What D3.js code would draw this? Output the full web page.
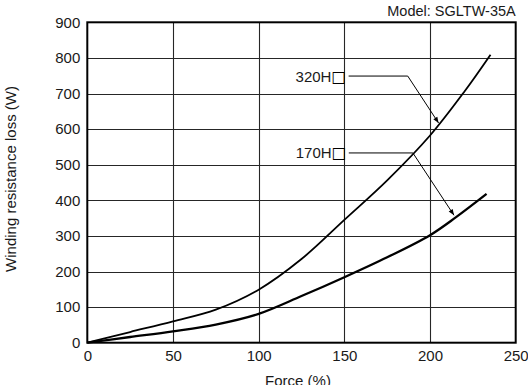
<!DOCTYPE html>
<html>
<head>
<meta charset="utf-8">
<script src="https://cdn.jsdelivr.net/npm/d3@7"></script>
<style>
  html, body { margin: 0; padding: 0; background: #fff; }
  svg { display: block; }
  text { font-family: "Liberation Sans", Arial, Helvetica, sans-serif; fill: #1a1a1a; }
</style>
</head>
<body>
<svg id="chart" width="528" height="385"></svg>
<script>
// ---- data ----
const xTicks = [0, 50, 100, 150, 200, 250];
const yTicks = [0, 100, 200, 300, 400, 500, 600, 700, 800, 900];

const force320 = [0, 25, 50, 75, 100, 125, 150, 175, 200, 220, 235.3];
const loss320  = [0, 30, 60, 93, 149, 235, 345, 456, 582, 705, 809];

const force170 = [0, 25, 50, 75, 100, 125, 150, 175, 200, 215, 233];
const loss170  = [0, 16, 32, 51, 81, 131, 184, 240, 302, 352, 418];

const seriesNames = ["320H", "170H"];
const labelY      = [749, 533];     // leader line level (W)
const labelStartX = [152.5, 152.6]; // leader line start (force %)
const elbowX      = [187, 190];     // leader elbow (force %)
const tipX        = [205, 214];     // arrow tip (force %)
const tipY        = [617, 358];     // arrow tip (W)

const xTitle = "Force (%)";
const yTitle = "Winding resistance loss (W)";
const modelText = "Model: SGLTW-35A";

// ---- layout ----
const svg = d3.select("#chart");
const L = 87.3, R = 515.7, T = 22.3, B = 342.7;
const x = d3.scaleLinear().domain([0, 250]).range([L, R]);
const y = d3.scaleLinear().domain([0, 900]).range([B, T]);

svg.append("rect").attr("width", 528).attr("height", 385).attr("fill", "#fff");

// grid
svg.append("g").selectAll("line").data(yTicks.slice(1, -1)).join("line")
  .attr("x1", L).attr("x2", R)
  .attr("y1", d => Math.round(y(d)) + 0.5).attr("y2", d => Math.round(y(d)) + 0.5)
  .attr("stroke", "#262626").attr("stroke-width", 1.1);
svg.append("g").selectAll("line").data(xTicks.slice(1, -1)).join("line")
  .attr("y1", T).attr("y2", B)
  .attr("x1", d => Math.round(x(d)) + 0.5).attr("x2", d => Math.round(x(d)) + 0.5)
  .attr("stroke", "#262626").attr("stroke-width", 1.1);

// axes labels
const yAxis = svg.append("g").attr("transform", `translate(${L},0)`)
  .call(d3.axisLeft(y).tickValues(yTicks).tickSize(0).tickPadding(7));
yAxis.select(".domain").remove();
yAxis.selectAll("text").style("font-size", "15px").attr("fill", "#1a1a1a")
  .style("font-family", "'Liberation Sans', Arial, sans-serif");

const xAxis = svg.append("g").attr("transform", `translate(0,${B})`)
  .call(d3.axisBottom(x).tickValues(xTicks).tickSize(0).tickPadding(8));
xAxis.select(".domain").remove();
xAxis.selectAll("text").style("font-size", "15px").attr("fill", "#1a1a1a")
  .style("font-family", "'Liberation Sans', Arial, sans-serif");

// frame
svg.append("rect").attr("x", L).attr("y", T).attr("width", R - L).attr("height", B - T)
  .attr("fill", "none").attr("stroke", "#000").attr("stroke-width", 2);

// curves
const line = d3.line().x(d => x(d[0])).y(d => y(d[1])).curve(d3.curveCatmullRom.alpha(0.5));
const pts320 = force320.map((f, i) => [f, loss320[i]]);
const pts170 = force170.map((f, i) => [f, loss170[i]]);
svg.append("path").attr("d", line(pts320)).attr("fill", "none")
  .attr("stroke", "#000").attr("stroke-width", 1.8);
svg.append("path").attr("d", line(pts170)).attr("fill", "none")
  .attr("stroke", "#000").attr("stroke-width", 2.3);

// arrow marker
svg.append("defs").append("marker")
  .attr("id", "arr").attr("viewBox", "0 0 10 10").attr("refX", 10).attr("refY", 5)
  .attr("markerUnits", "userSpaceOnUse").attr("markerWidth", 8).attr("markerHeight", 6)
  .attr("orient", "auto")
  .append("path").attr("d", "M0,1 L10,5 L0,9 Z").attr("fill", "#000");

// annotations
seriesNames.forEach((name, i) => {
  const ly = y(labelY[i]);
  svg.append("polyline")
    .attr("points", [[x(labelStartX[i]), ly], [x(elbowX[i]), ly], [x(tipX[i]), y(tipY[i])]].map(p => p.join(",")).join(" "))
    .attr("fill", "none").attr("stroke", "#000").attr("stroke-width", 1)
    .attr("marker-end", "url(#arr)");
  const t = svg.append("text")
    .attr("x", x(labelStartX[i]) - 2.5).attr("y", ly + 5.5)
    .attr("text-anchor", "end").style("font-size", "15px");
  t.append("tspan").text(name);
  t.append("tspan").text("□").style("font-family", "'DejaVu Sans', sans-serif")
    .style("font-size", "15.5px").attr("fill", "#000");
});

// titles
svg.append("text").attr("x", 298).attr("y", 386).attr("text-anchor", "middle")
  .style("font-size", "15px").text(xTitle);
svg.append("text").attr("transform", "translate(16,179) rotate(-90)").attr("text-anchor", "middle")
  .style("font-size", "15px").text(yTitle);
svg.append("text").attr("x", R).attr("y", 15.7).attr("text-anchor", "end")
  .style("font-size", "14.5px").text(modelText);
</script>
</body>
</html>
